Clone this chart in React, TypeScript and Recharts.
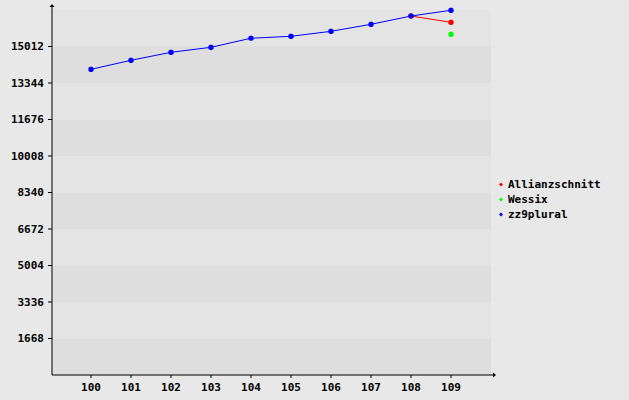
import { LineChart, Line, XAxis, YAxis, CartesianGrid, Legend } from 'recharts'

const categories = ['100', '101', '102', '103', '104', '105', '106', '107', '108', '109']
const zz9plural = [13970, 14381, 14747, 14975, 15390, 15478, 15706, 16026, 16405, 16666]
const allianzschnitt = [null, null, null, null, null, null, null, null, 16405, 16118]
const wessix = [null, null, null, null, null, null, null, null, null, 15569]

// ticks at 0 and the top only mark the band edges, they carry no label
const yTicks = [0, 1668, 3336, 5004, 6672, 8340, 10008, 11676, 13344, 15012, 16680]
const Y_MAX = 16680

const series = [
  { key: 'allianzschnitt', name: 'Allianzschnitt', color: '#ff0000' },
  { key: 'wessix', name: 'Wessix', color: '#00ff00' },
  { key: 'zz9plural', name: 'zz9plural', color: '#0000ff' },
]

const data = categories.map((cat, i) => ({
  cat,
  allianzschnitt: allianzschnitt[i],
  wessix: wessix[i],
  zz9plural: zz9plural[i],
}))

const FONT = '"DejaVu Sans Mono", monospace'
const tickStyle = { fontFamily: FONT, fontSize: 11, fontWeight: 'bold', fill: '#000' }

// small octagon marker like the original
function Dot(props: any) {
  const { cx, cy, stroke, value } = props
  if (cx == null || cy == null || value == null) return <g />
  const a = 1.2
  const b = 2.6
  const pts = [
    [cx - a, cy - b], [cx + a, cy - b], [cx + b, cy - a], [cx + b, cy + a],
    [cx + a, cy + b], [cx - a, cy + b], [cx - b, cy + a], [cx - b, cy - a],
  ].map((p) => p.join(',')).join(' ')
  return <polygon points={pts} fill={stroke} stroke="none" />
}

function YTick(props: any) {
  const { x, y, payload } = props
  const v = payload.value
  if (v === 0 || v === Y_MAX) return <g />
  return (
    <g>
      <line x1={x + 4} x2={x + 8} y1={y} y2={y} stroke="#000" />
      <text x={x} y={y} dy="0.355em" textAnchor="end" style={tickStyle}>{v}</text>
    </g>
  )
}

function LegendBox({ payload }: any) {
  const items = (payload || []).filter((p: any) => p.value)
  return (
    <div style={{ fontFamily: FONT, fontSize: 11, fontWeight: 'bold', color: '#000' }}>
      {items.map((p: any) => (
        <div key={p.value} style={{ height: 15, display: 'flex', alignItems: 'center' }}>
          <svg width={8} height={15}>
            <polygon points="4,5.5 6,7.5 4,9.5 2,7.5" fill={p.color} />
          </svg>
          <span style={{ marginLeft: 3 }}>{p.value}</span>
        </div>
      ))}
    </div>
  )
}

export default function App() {
  return (
    <div style={{ position: 'absolute', left: 0, top: 0, width: 629, height: 400, background: '#e8e8e8' }}>
      <LineChart width={629} height={400} data={data} margin={{ top: 10, right: 138, bottom: 0, left: 0 }}>
        <defs>
          <marker id="arrowUp" markerUnits="userSpaceOnUse" markerWidth={10} markerHeight={10} refX={0} refY={0} orient="0" overflow="visible">
            <path d="M0,0 L0,-5" stroke="#000" strokeWidth={1} />
            <path d="M-2.5,-3 L0,-6 L2.5,-3 Z" fill="#000" />
          </marker>
          <marker id="arrowRight" markerUnits="userSpaceOnUse" markerWidth={10} markerHeight={10} refX={0} refY={0} orient="0" overflow="visible">
            <path d="M0,0 L4,0" stroke="#000" strokeWidth={1} />
            <path d="M2,-2.5 L5,0 L2,2.5 Z" fill="#000" />
          </marker>
        </defs>
        <CartesianGrid vertical={false} stroke="transparent" horizontalFill={['#e4e4e4', '#dedede']} />
        <XAxis
          dataKey="cat"
          height={25}
          padding={{ left: 39, right: 40 }}
          tickSize={3}
          tickMargin={5}
          tick={tickStyle}
          tickLine={{ stroke: '#000' }}
          axisLine={{ stroke: '#000', markerEnd: 'url(#arrowRight)' }}
          interval={0}
        />
        <YAxis
          width={52}
          domain={[0, Y_MAX]}
          ticks={yTicks}
          interval={0}
          tickSize={4}
          tickMargin={4}
          tick={<YTick />}
          tickLine={false}
          axisLine={{ stroke: '#000', markerStart: 'url(#arrowUp)' }}
        />
        <Legend
          layout="horizontal"
          align="center"
          verticalAlign="middle"
          content={<LegendBox />}
          wrapperStyle={{ left: 497, top: 177, width: 130 }}
        />
        {series.map((s) => (
          <Line
            key={s.key}
            type="linear"
            dataKey={s.key}
            name={s.name}
            stroke={s.color}
            strokeWidth={1}
            dot={<Dot />}
            activeDot={false}
            legendType="diamond"
            isAnimationActive={false}
          />
        ))}
      </LineChart>
    </div>
  )
}
